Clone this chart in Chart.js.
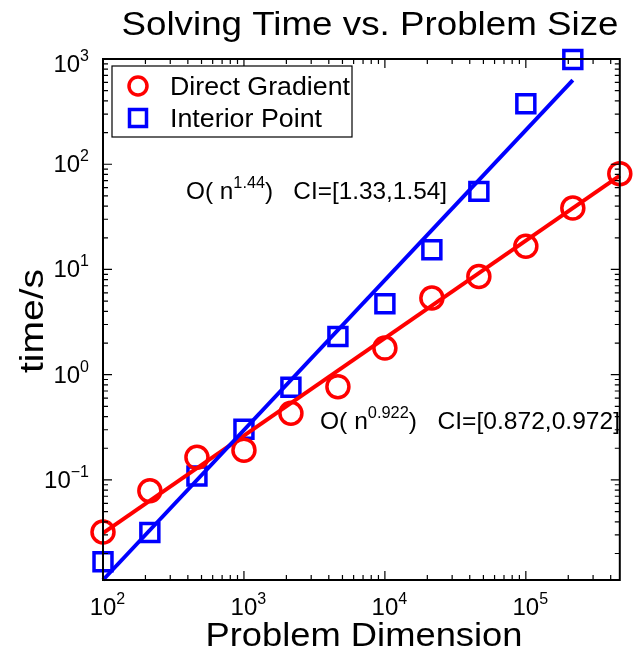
<!DOCTYPE html>
<html lang="en">
<head>
<meta charset="UTF-8">
<script src="https://cdn.jsdelivr.net/npm/chart.js"></script>
<title>Solving Time vs. Problem Size</title>
<style>
  html, body { margin: 0; padding: 0; background: #fff; }
  #wrap { width: 636px; height: 649px; }
</style>
</head>
<body>
<div id="wrap"><canvas id="chart" width="636" height="649"></canvas></div>
<script>
// problem sizes and measured times
var dims = [100, 215, 464, 1000, 2154, 4642, 10000, 21544, 46416, 100000, 215443, 464159];
var directTime = [0.032, 0.079, 0.164, 0.192, 0.43, 0.77, 1.79, 5.35, 8.58, 16.6, 38.4, 81.4];
var interiorTime = [0.0167, 0.0317, 0.109, 0.303, 0.76, 2.31, 4.72, 15.4, 55.2, 375, 989];

// fitted power-law lines (end points)
var directFitX = [100, 464159];
var directFitY = [0.0313, 78];
var interiorFitX = [100, 215443];
var interiorFitY = [0.0112, 629];

// tick labels (powers of ten)
var xTickExp = [2, 3, 4, 5];
var yTickExp = [-1, 0, 1, 2, 3];

var xMin = 100, xMax = 464159, yMin = 0.0112, yMax = 1000;

function pts(xs, ys) {
    return ys.map(function (v, i) { return { x: xs[i], y: v }; });
}

var FONT = '"Liberation Sans", Arial, Helvetica, sans-serif';

// text stretched horizontally to a given width (the original uses a wider face)
function sText(ctx, text, x, y, size, width, align) {
    ctx.font = size + 'px ' + FONT;
    var w = ctx.measureText(text).width;
    var sx = width ? width / w : 1;
    ctx.save();
    ctx.translate(x, y);
    ctx.scale(sx, 1);
    ctx.textAlign = align || 'left';
    ctx.textBaseline = 'alphabetic';
    ctx.fillText(text, 0, 0);
    ctx.restore();
}

// "10" with a superscript exponent
function powText(ctx, x, y, exp, align) {
    var size = 24, es = 16;
    ctx.font = size + 'px ' + FONT;
    var bw = ctx.measureText('10').width;
    ctx.font = es + 'px ' + FONT;
    var ew = ctx.measureText(exp).width;
    var bx = align === 'right' ? x - ew - bw : x - bw / 2;
    ctx.textAlign = 'left';
    ctx.textBaseline = 'alphabetic';
    ctx.font = size + 'px ' + FONT;
    ctx.fillText('10', bx, y);
    ctx.font = es + 'px ' + FONT;
    ctx.fillText(exp, bx + bw, y - 11);
}

// "O( n^exp)   CI=[..]"
function note(ctx, x, y, exp, ci, width) {
    var size = 24, es = 16;
    ctx.font = size + 'px ' + FONT;
    var w1 = ctx.measureText('O( n').width;
    var w3 = ctx.measureText(')   ' + ci).width;
    ctx.font = es + 'px ' + FONT;
    var w2 = ctx.measureText(exp).width;
    var sx = width / (w1 + w2 + w3);
    ctx.save();
    ctx.translate(x, y);
    ctx.scale(sx, 1);
    ctx.textAlign = 'left';
    ctx.textBaseline = 'alphabetic';
    ctx.font = size + 'px ' + FONT;
    ctx.fillText('O( n', 0, 0);
    ctx.font = es + 'px ' + FONT;
    ctx.fillText(exp, w1, -11);
    ctx.font = size + 'px ' + FONT;
    ctx.fillText(')   ' + ci, w1 + w2, 0);
    ctx.restore();
}

var decor = {
    id: 'decor',
    afterDraw: function (chart) {
        var ctx = chart.ctx;
        var a = chart.chartArea;
        var xs = chart.scales.x, ys = chart.scales.y;
        ctx.save();
        ctx.fillStyle = '#000';
        ctx.strokeStyle = '#000';

        // frame
        ctx.lineWidth = 2;
        ctx.strokeRect(a.left, a.top, a.right - a.left, a.bottom - a.top);

        // ticks inside the box, on all four sides
        ctx.lineWidth = 1.2;
        ctx.beginPath();
        var d, k, v, p, len;
        for (d = 1; d <= 1e6; d *= 10) {
            for (k = 1; k <= 9; k++) {
                v = d * k;
                if (v < xMin * 0.999 || v > xMax * 1.001) continue;
                p = xs.getPixelForValue(v);
                len = k === 1 ? 9 : 5;
                ctx.moveTo(p, a.bottom); ctx.lineTo(p, a.bottom - len);
                ctx.moveTo(p, a.top); ctx.lineTo(p, a.top + len);
            }
        }
        for (d = 0.01; d <= 1000; d *= 10) {
            for (k = 1; k <= 9; k++) {
                v = d * k;
                if (v < yMin * 0.999 || v > yMax * 1.001) continue;
                p = ys.getPixelForValue(v);
                len = k === 1 ? 9 : 5;
                ctx.moveTo(a.left, p); ctx.lineTo(a.left + len, p);
                ctx.moveTo(a.right, p); ctx.lineTo(a.right - len, p);
            }
        }
        ctx.stroke();

        // tick labels
        xTickExp.forEach(function (e) {
            powText(ctx, xs.getPixelForValue(Math.pow(10, e)), 615, String(e), 'center');
        });
        yTickExp.forEach(function (e) {
            var py = ys.getPixelForValue(Math.pow(10, e));
            if (e === 3) py += 5;
            powText(ctx, 89, py + 8, e < 0 ? '\u2212' + (-e) : String(e), 'right');
        });

        // title and axis titles
        sText(ctx, 'Solving Time vs. Problem Size', 370, 35, 33, 497, 'center');
        sText(ctx, 'Problem Dimension', 364, 646, 33, 317, 'center');
        ctx.save();
        ctx.translate(43, 321);
        ctx.rotate(-Math.PI / 2);
        sText(ctx, 'time/s', 0, 0, 33, 104, 'center');
        ctx.restore();

        // fit annotations
        note(ctx, 186, 199, '1.44', 'CI=[1.33,1.54]', 261);
        note(ctx, 320, 429, '0.922', 'CI=[0.872,0.972]', 300);

        // legend
        ctx.fillStyle = '#fff';
        ctx.fillRect(112, 66, 240, 71);
        ctx.lineWidth = 1.2;
        ctx.strokeStyle = '#000';
        ctx.strokeRect(112, 66, 240, 71);
        var legendW = [180, 152];
        var sets = chart.data.datasets.filter(function (s) { return s.inLegend; });
        sets.forEach(function (s, i) {
            var ly = 86 + i * 32;
            ctx.lineWidth = 3.5;
            ctx.strokeStyle = s.borderColor;
            ctx.beginPath();
            if (s.pointStyle === 'circle') {
                ctx.arc(138, ly, 9, 0, Math.PI * 2);
            } else {
                ctx.rect(129.5, ly - 8.5, 17, 17);
            }
            ctx.stroke();
            ctx.fillStyle = '#000';
            sText(ctx, s.label, 170, ly + 9, 25, legendW[i], 'left');
        });
        ctx.restore();
    }
};

new Chart(document.getElementById('chart').getContext('2d'), {
    type: 'scatter',
    data: {
        datasets: [
            {
                label: 'Interior Point fit',
                data: pts(interiorFitX, interiorFitY),
                showLine: true,
                borderColor: '#0000ff',
                borderWidth: 4,
                pointRadius: 0,
                clip: false
            },
            {
                label: 'Direct Gradient fit',
                data: pts(directFitX, directFitY),
                showLine: true,
                borderColor: '#ff0000',
                borderWidth: 4,
                pointRadius: 0,
                clip: false
            },
            {
                label: 'Direct Gradient',
                inLegend: true,
                data: pts(dims, directTime),
                pointStyle: 'circle',
                pointRadius: 11,
                borderColor: '#ff0000',
                backgroundColor: 'rgba(0,0,0,0)',
                borderWidth: 3.5,
                clip: false
            },
            {
                label: 'Interior Point',
                inLegend: true,
                data: pts(dims, interiorTime),
                pointStyle: 'rect',
                pointRadius: 12.7,
                borderColor: '#0000ff',
                backgroundColor: 'rgba(0,0,0,0)',
                borderWidth: 3.5,
                clip: false
            }
        ]
    },
    options: {
        responsive: false,
        animation: false,
        layout: { padding: { left: 103, right: 12, top: 59, bottom: 69 } },
        plugins: { legend: { display: false }, tooltip: { enabled: false } },
        scales: {
            x: { type: 'logarithmic', min: xMin, max: xMax, display: false },
            y: { type: 'logarithmic', min: yMin, max: yMax, display: false }
        }
    },
    plugins: [decor]
});
</script>
</body>
</html>
